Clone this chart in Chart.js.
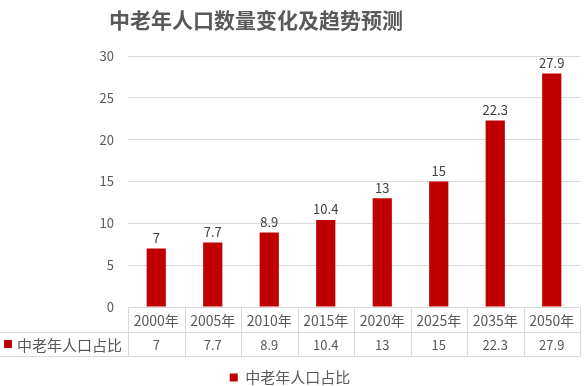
<!DOCTYPE html>
<html>
<head>
<meta charset="utf-8">
<script src="https://cdn.jsdelivr.net/npm/chart.js@4"></script>
<style>
  html, body { margin: 0; padding: 0; background: #fff; }
  #wrap { width: 585px; height: 386px; }
</style>
</head>
<body>
<div id="wrap"><canvas id="popChart"></canvas></div>
<script>
const years = ["2000年", "2005年", "2010年", "2015年", "2020年", "2025年", "2035年", "2050年"];
const shares = [7, 7.7, 8.9, 10.4, 13, 15, 22.3, 27.9];
const seriesName = "中老年人口占比";
const chartTitle = "中老年人口数量变化及趋势预测";

const FONT = '"Noto Sans CJK SC", "Noto Sans", sans-serif';
const TEXT = "#595959";
const LINE = "#d9d9d9";
const RED = "#c00000";
const TABLE_H = 49;

// title, drawn a bit left of centre like the original
const titlePlugin = {
  id: "titlePlugin",
  afterDraw(chart) {
    const ctx = chart.ctx;
    ctx.save();
    ctx.font = "bold 21px " + FONT;
    ctx.fillStyle = TEXT;
    ctx.textAlign = "center";
    ctx.textBaseline = "middle";
    ctx.fillText(chartTitle, 256, 20);
    ctx.restore();
  }
};

// value labels above each bar
const barLabels = {
  id: "barLabels",
  afterDatasetsDraw(chart) {
    const ctx = chart.ctx;
    const meta = chart.getDatasetMeta(0);
    ctx.save();
    ctx.font = "13px " + FONT;
    ctx.fillStyle = "#404040";
    ctx.textAlign = "center";
    ctx.textBaseline = "bottom";
    meta.data.forEach((bar, i) => {
      ctx.fillText(String(shares[i]), bar.x, bar.y - 4);
    });
    ctx.restore();
  }
};

// Excel-like data table under the x axis
const dataTable = {
  id: "dataTable",
  afterDraw(chart) {
    const ctx = chart.ctx;
    const x = chart.scales.x;
    const area = chart.chartArea;
    const top = area.bottom;
    const mid = top + 25;
    const bot = top + TABLE_H;
    const half = (x.getPixelForTick(1) - x.getPixelForTick(0)) / 2;
    ctx.save();
    ctx.strokeStyle = LINE;
    ctx.lineWidth = 1;
    ctx.beginPath();
    ctx.moveTo(0, mid + 0.5); ctx.lineTo(area.right, mid + 0.5);
    ctx.moveTo(0, bot + 0.5); ctx.lineTo(area.right, bot + 0.5);
    for (let i = 0; i <= years.length; i++) {
      const px = Math.round(x.getPixelForTick(0) - half + i * half * 2) + 0.5;
      ctx.moveTo(px, top); ctx.lineTo(px, bot);
    }
    ctx.stroke();

    ctx.fillStyle = TEXT;
    ctx.textAlign = "center";
    ctx.textBaseline = "middle";
    years.forEach((y, i) => {
      const cx = x.getPixelForTick(i);
      ctx.font = "14px " + FONT;
      ctx.fillText(y, cx, (top + mid) / 2 + 1);
      ctx.font = "13px " + FONT;
      ctx.fillText(String(shares[i]), cx, (mid + bot) / 2 + 1);
    });

    ctx.fillStyle = RED;
    ctx.fillRect(4, (mid + bot) / 2 - 4, 8, 8);
    ctx.fillStyle = TEXT;
    ctx.font = "15px " + FONT;
    ctx.textAlign = "left";
    ctx.fillText(seriesName, 17, (mid + bot) / 2 + 1);
    ctx.restore();
  }
};

new Chart(document.getElementById("popChart"), {
  type: "bar",
  data: {
    labels: years,
    datasets: [{
      label: seriesName,
      data: shares,
      backgroundColor: RED,
      borderWidth: 0,
      barPercentage: 1,
      categoryPercentage: 0.34
    }]
  },
  options: {
    responsive: true,
    maintainAspectRatio: false,
    animation: false,
    layout: { padding: { left: 0, right: 5, top: 56, bottom: -9 } },
    plugins: {
      title: { display: false },
      legend: {
        display: true,
        position: "bottom",
        labels: {
          color: TEXT,
          font: { family: FONT, size: 15 },
          boxWidth: 8,
          boxHeight: 8,
          padding: 0
        }
      },
      tooltip: { enabled: false }
    },
    scales: {
      x: {
        ticks: { display: false },
        grid: { display: false },
        border: { display: false },
        afterFit(scale) { scale.height = TABLE_H + 14; }
      },
      y: {
        min: 0,
        max: 30,
        ticks: { stepSize: 5, color: TEXT, font: { family: FONT, size: 13 }, padding: 14 },
        grid: { color: LINE, drawTicks: false },
        border: { display: false },
        afterFit(scale) { scale.width = 128; }
      }
    }
  },
  plugins: [barLabels, dataTable, titlePlugin]
});
</script>
</body>
</html>
